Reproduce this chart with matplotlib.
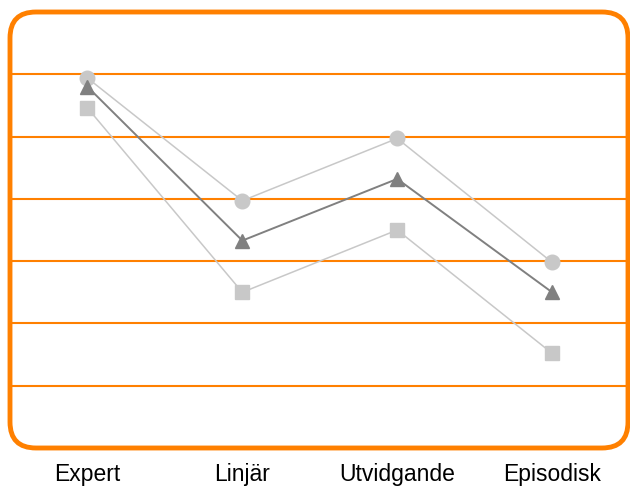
import matplotlib
matplotlib.use("Agg")
import matplotlib.pyplot as plt
from matplotlib.patches import FancyBboxPatch

# data
categories = ["Expert", "Linjär", "Utvidgande", "Episodisk"]
circles = [5.94, 3.97, 4.97, 2.98]
triangles = [5.8, 3.33, 4.32, 2.5]
squares = [5.46, 2.5, 3.5, 1.52]
grid_vals = [1, 2, 3, 4, 5, 6]

orange = "#ff8000"
light = "#c8c8c8"
dark = "#808080"

fig = plt.figure(figsize=(6.3, 4.88), dpi=100)
ax = fig.add_axes([10 / 630, 40 / 488, 618 / 630, 436 / 488])
ax.set_xlim(-0.5, 3.49)
ax.set_ylim(0, 7)

for g in grid_vals:
    ax.axhline(g, color=orange, lw=1.5, zorder=1)

x = range(len(categories))
ax.plot(x, circles, color=light, lw=1.1, marker="o", ms=10.5, zorder=3)
ax.plot(x, squares, color=light, lw=1.1, marker="s", ms=10, zorder=3)
ax.plot(x, triangles, color=dark, lw=1.4, marker="^", ms=10, zorder=4)

# rounded orange frame
box = FancyBboxPatch((0, 0), 1, 1, boxstyle="round,pad=0,rounding_size=0.042",
                     transform=ax.transAxes, fill=False, ec=orange, lw=3.5,
                     clip_on=False, zorder=5, mutation_aspect=618 / 436)
ax.add_patch(box)

for s in ax.spines.values():
    s.set_visible(False)
ax.set_yticks([])
ax.set_xticks(list(x))
ax.set_xticklabels(categories, fontsize=16.5, family="Liberation Sans")
ax.tick_params(axis="x", length=0, pad=11)

fig.savefig("out.png", dpi=100)
